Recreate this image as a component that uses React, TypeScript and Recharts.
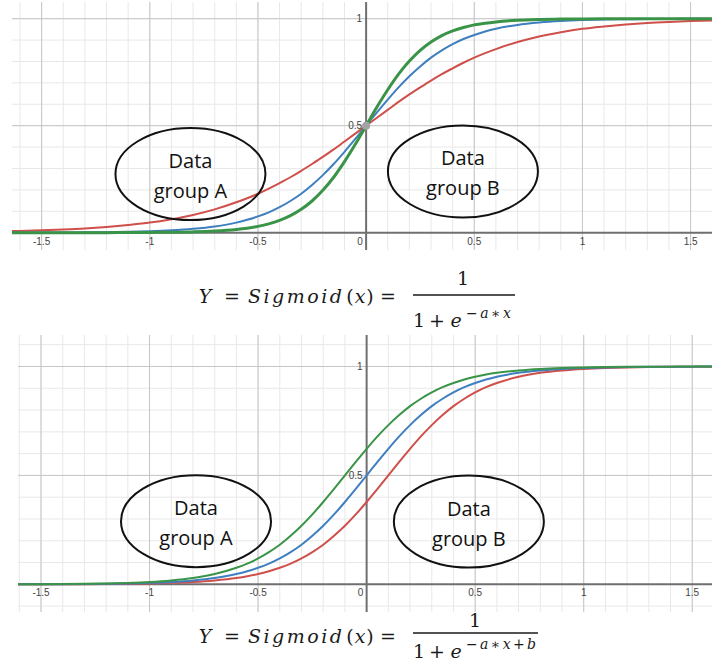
import React from 'react';
import { LineChart, Line, XAxis, YAxis, ReferenceLine, ReferenceDot } from 'recharts';

// Sample positions along x shared by every curve
const xs = [
  -1.7, -1.6, -1.5, -1.4, -1.3, -1.2, -1.1, -1.0, -0.9, -0.8, -0.7, -0.6,
  -0.55, -0.5, -0.45, -0.4, -0.35, -0.3, -0.25, -0.2, -0.15, -0.1, -0.05,
  0,
  0.05, 0.1, 0.15, 0.2, 0.25, 0.3, 0.35, 0.4, 0.45, 0.5, 0.55,
  0.6, 0.7, 0.8, 0.9, 1.0, 1.1, 1.2, 1.3, 1.4, 1.5, 1.6, 1.7,
];

// Upper panel: three slopes through (0, 0.5)
const topRed = [
  0.006, 0.008, 0.011, 0.015, 0.02, 0.027, 0.036, 0.047, 0.063, 0.083, 0.109, 0.142,
  0.161, 0.182, 0.206, 0.232, 0.259, 0.289, 0.321, 0.354, 0.389, 0.426, 0.463,
  0.5,
  0.537, 0.574, 0.611, 0.646, 0.679, 0.711, 0.741, 0.768, 0.794, 0.818, 0.839,
  0.858, 0.891, 0.917, 0.937, 0.953, 0.964, 0.973, 0.98, 0.985, 0.989, 0.992, 0.994,
];
const topBlue = [
  0.0002, 0.0003, 0.0006, 0.0009, 0.0015, 0.0025, 0.0041, 0.0067, 0.011, 0.018, 0.029, 0.047,
  0.06, 0.076, 0.095, 0.119, 0.148, 0.182, 0.223, 0.269, 0.321, 0.378, 0.438,
  0.5,
  0.562, 0.622, 0.679, 0.731, 0.777, 0.818, 0.852, 0.881, 0.905, 0.924, 0.94,
  0.953, 0.971, 0.982, 0.989, 0.9933, 0.9959, 0.9975, 0.9985, 0.9991, 0.9994, 0.9997, 0.9998,
];
const topGreen = [
  0.00001, 0.00001, 0.00003, 0.00006, 0.0001, 0.0002, 0.0005, 0.0009, 0.0018, 0.0037, 0.0074, 0.0148,
  0.0208, 0.0293, 0.0411, 0.0573, 0.0794, 0.1091, 0.148, 0.198, 0.259, 0.332, 0.413,
  0.5,
  0.587, 0.668, 0.741, 0.802, 0.852, 0.891, 0.921, 0.943, 0.959, 0.971, 0.979,
  0.985, 0.9926, 0.9963, 0.9982, 0.9991, 0.9995, 0.9998, 0.9999, 0.99994, 0.99997, 0.99999, 0.99999,
];

// Lower panel: same slope, three offsets
const lowRed = [
  0.0001, 0.0002, 0.0003, 0.0006, 0.0009, 0.0015, 0.0025, 0.0041, 0.0067, 0.011, 0.018, 0.029,
  0.037, 0.047, 0.06, 0.076, 0.095, 0.119, 0.148, 0.182, 0.223, 0.269, 0.321,
  0.378,
  0.438, 0.5, 0.562, 0.622, 0.679, 0.731, 0.777, 0.818, 0.852, 0.881, 0.905,
  0.924, 0.953, 0.971, 0.982, 0.989, 0.9933, 0.9959, 0.9975, 0.9985, 0.9991, 0.9994, 0.9997,
];
const lowBlue = topBlue;
const lowGreen = [
  0.0003, 0.0006, 0.0009, 0.0015, 0.0025, 0.0041, 0.0067, 0.011, 0.018, 0.029, 0.047, 0.076,
  0.095, 0.119, 0.148, 0.182, 0.223, 0.269, 0.321, 0.378, 0.438, 0.5, 0.562,
  0.622,
  0.679, 0.731, 0.777, 0.818, 0.852, 0.881, 0.905, 0.924, 0.94, 0.953, 0.963,
  0.971, 0.982, 0.989, 0.9933, 0.9959, 0.9975, 0.9985, 0.9991, 0.9994, 0.9997, 0.9998, 0.9999,
];

// Grid and tick values
const minorX = [
  -1.6, -1.5, -1.4, -1.3, -1.2, -1.1, -1.0, -0.9, -0.8, -0.7, -0.6, -0.5, -0.4, -0.3, -0.2, -0.1,
  0.1, 0.2, 0.3, 0.4, 0.5, 0.6, 0.7, 0.8, 0.9, 1.0, 1.1, 1.2, 1.3, 1.4, 1.5, 1.6,
];
const minorY = [-0.1, 0.1, 0.2, 0.3, 0.4, 0.5, 0.6, 0.7, 0.8, 0.9, 1.0, 1.1];
const majorX = [-1.5, -1, -0.5, 0.5, 1, 1.5];
const majorY = [0.5, 1];
const xTickLabels = ['-1.5', '-1', '-0.5', '0.5', '1', '1.5'];
const yTickLabels = ['0.5', '1'];

const RED = '#cf4f4b';
const BLUE = '#3f7fc0';
const GREEN = '#3a9447';

type Row = { x: number; red: number; blue: number; green: number };

const buildRows = (r: number[], b: number[], g: number[]): Row[] =>
  xs.map((x, i) => ({ x, red: r[i], blue: b[i], green: g[i] }));

const topRows = buildRows(topRed, topBlue, topGreen);
const lowRows = buildRows(lowRed, lowBlue, lowGreen);

const labelFont = '"Liberation Sans", Arial, sans-serif';
const noteFont = '"Open Sans", "Noto Sans", sans-serif';

const xTickShape = (label: string) => (p: any) => (
  <text
    x={p.cx}
    y={p.cy + 12}
    textAnchor="middle"
    fontSize={10}
    fontFamily={labelFont}
    fill="#444"
  >
    {label}
  </text>
);

const yTickShape = (label: string) => (p: any) => (
  <text
    x={p.cx - 4}
    y={p.cy + 3.5}
    textAnchor="end"
    fontSize={10}
    fontFamily={labelFont}
    fill="#444"
  >
    {label}
  </text>
);

const groupShape = (letter: string) => (p: any) => (
  <g>
    <ellipse cx={p.cx} cy={p.cy} rx={75} ry={46} fill="none" stroke="#111" strokeWidth={2} />
    <text x={p.cx} y={p.cy - 6} textAnchor="middle" fontSize={20} fontFamily={noteFont} fill="#111">
      Data
    </text>
    <text x={p.cx} y={p.cy + 24} textAnchor="middle" fontSize={20} fontFamily={noteFont} fill="#111">
      {`group ${letter}`}
    </text>
  </g>
);

type PanelProps = {
  rows: Row[];
  left: number;
  top: number;
  width: number;
  height: number;
  domainX: [number, number];
  domainY: [number, number];
  greenWidth: number;
  groupA: [number, number];
  groupB: [number, number];
  showOrigin: boolean;
};

function Panel(props: PanelProps) {
  const { rows, left, top, width, height, domainX, domainY, greenWidth, groupA, groupB, showOrigin } = props;
  return (
    <div style={{ position: 'absolute', left, top }}>
      <LineChart width={width} height={height} data={rows} margin={{ top: 0, right: 0, bottom: 0, left: 0 }}>
        <XAxis dataKey="x" type="number" domain={domainX} allowDataOverflow hide />
        <YAxis type="number" domain={domainY} allowDataOverflow hide />

        {minorX.map((v) => (
          <ReferenceLine key={`mx${v}`} x={v} stroke="#e8e8e8" strokeWidth={1} />
        ))}
        {minorY.map((v) => (
          <ReferenceLine key={`my${v}`} y={v} stroke="#e8e8e8" strokeWidth={1} />
        ))}
        {majorX.map((v) => (
          <ReferenceLine key={`Mx${v}`} x={v} stroke="#c6c6c6" strokeWidth={1} />
        ))}
        {majorY.map((v) => (
          <ReferenceLine key={`My${v}`} y={v} stroke="#c6c6c6" strokeWidth={1} />
        ))}
        <ReferenceLine x={0} stroke="#6f6f6f" strokeWidth={2} />
        <ReferenceLine y={0} stroke="#6f6f6f" strokeWidth={2} />

        <Line dataKey="red" type="monotone" stroke={RED} strokeWidth={2} dot={false} isAnimationActive={false} />
        <Line dataKey="blue" type="monotone" stroke={BLUE} strokeWidth={2} dot={false} isAnimationActive={false} />
        <Line dataKey="green" type="monotone" stroke={GREEN} strokeWidth={greenWidth} dot={false} isAnimationActive={false} />

        {majorX.map((v, i) => (
          <ReferenceDot key={`tx${v}`} x={v} y={0} r={0} shape={xTickShape(xTickLabels[i])} />
        ))}
        <ReferenceDot x={0} y={0} r={0} shape={(p: any) => (
          <text x={p.cx - 6} y={p.cy + 12} textAnchor="middle" fontSize={10} fontFamily={labelFont} fill="#444">0</text>
        )} />
        {majorY.map((v, i) => (
          <ReferenceDot key={`ty${v}`} x={0} y={v} r={0} shape={yTickShape(yTickLabels[i])} />
        ))}
        {showOrigin && <ReferenceDot x={0} y={0.5} r={4} fill="#a3a3a3" stroke="none" />}

        <ReferenceDot x={groupA[0]} y={groupA[1]} r={0} shape={groupShape('A')} />
        <ReferenceDot x={groupB[0]} y={groupB[1]} r={0} shape={groupShape('B')} />
      </LineChart>
    </div>
  );
}

const mathFont = '"DejaVu Serif", "Liberation Serif", serif';

type FormulaProps = {
  base: number;
  barY: number;
  barEnd: number;
  numX: number;
  numBase: number;
  denBase: number;
  supBase: number;
  supWidth: number;
  withShift: boolean;
};

function Formula(p: FormulaProps) {
  const fs = 19;
  return (
    <g fontFamily={mathFont} fill="#1a1a1a">
      <text x={205} y={p.base} fontSize={fs} fontStyle="italic" textAnchor="middle">Y</text>
      <text x={232} y={p.base} fontSize={fs} textAnchor="middle">=</text>
      <text x={248} y={p.base} fontSize={fs} fontStyle="italic" textLength={94} lengthAdjust="spacing">
        Sigmoid
      </text>
      <text x={350} y={p.base} fontSize={fs} textAnchor="middle">(</text>
      <text x={360} y={p.base} fontSize={fs} fontStyle="italic" textAnchor="middle">x</text>
      <text x={370} y={p.base} fontSize={fs} textAnchor="middle">)</text>
      <text x={388} y={p.base} fontSize={fs} textAnchor="middle">=</text>

      <text x={p.numX} y={p.numBase} fontSize={fs} textAnchor="middle">1</text>
      <line x1={413} x2={p.barEnd} y1={p.barY} y2={p.barY} stroke="#1a1a1a" strokeWidth={1.3} />

      <text x={419} y={p.denBase} fontSize={fs} textAnchor="middle">1</text>
      <text x={437} y={p.denBase} fontSize={fs} textAnchor="middle">+</text>
      <text x={456} y={p.denBase} fontSize={fs} fontStyle="italic" textAnchor="middle">e</text>
      <text x={466} y={p.supBase} fontSize={14} textLength={p.supWidth} lengthAdjust="spacing">
        <tspan>−</tspan>
        <tspan fontStyle="italic">a</tspan>
        <tspan>∗</tspan>
        <tspan fontStyle="italic">x</tspan>
        {p.withShift && <tspan>+</tspan>}
        {p.withShift && <tspan fontStyle="italic">b</tspan>}
      </text>
    </g>
  );
}

export default function App() {
  return (
    <div style={{ position: 'relative', width: 712, height: 664, background: '#fff', overflow: 'hidden' }}>
      <style>{'body{margin:0}'}</style>
      <Panel
        rows={topRows}
        left={12}
        top={2}
        width={700}
        height={248}
        domainX={[-1.637, 1.599]}
        domainY={[-0.081, 1.078]}
        greenWidth={3}
        groupA={[-0.812, 0.274]}
        groupB={[0.4475, 0.286]}
        showOrigin
      />
      <Panel
        rows={lowRows}
        left={18}
        top={335}
        width={694}
        height={277}
        domainX={[-1.606, 1.591]}
        domainY={[-0.127, 1.1446]}
        greenWidth={2}
        groupA={[-0.786, 0.29]}
        groupB={[0.471, 0.288]}
        showOrigin={false}
      />
      <svg width={712} height={664} style={{ position: 'absolute', left: 0, top: 0, pointerEvents: 'none' }}>
        <Formula base={303} barY={295} barEnd={515} numX={463} numBase={285} denBase={327} supBase={318} supWidth={45} withShift={false} />
        <Formula base={643} barY={633} barEnd={538} numX={475} numBase={627} denBase={658} supBase={649} supWidth={70} withShift />
      </svg>
    </div>
  );
}
